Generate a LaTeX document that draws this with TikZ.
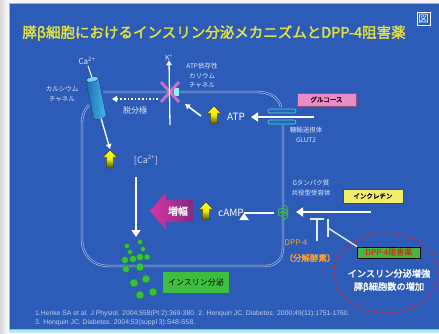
\documentclass[tikz,border=0pt]{standalone}
\usepackage{fontspec}
\setmainfont{Noto Sans CJK JP}[AutoFakeBold=2]
\newfontfamily\refsans{Liberation Sans}
\usetikzlibrary{arrows.meta,shapes.geometric,decorations.pathmorphing,calc}

\definecolor{slide}{HTML}{2C5BB8}
\definecolor{slideedge}{HTML}{62CFE0}
\definecolor{titleyellow}{HTML}{E6E23C}
\definecolor{labelwhite}{HTML}{E4EAF6}
\definecolor{membranegray}{HTML}{B8C4DC}
\definecolor{chanpink}{HTML}{D874C4}
\definecolor{glcpink}{HTML}{E88CC8}
\definecolor{incyellow}{HTML}{F2EE6A}
\definecolor{insgreen}{HTML}{3EBE3E}
\definecolor{granule}{HTML}{38C238}
\definecolor{granuleedge}{HTML}{1E8A2C}
\definecolor{dppgreen}{HTML}{46B446}
\definecolor{dpporange}{HTML}{F2A234}
\definecolor{ovalred}{HTML}{D42438}
\definecolor{ampmagenta}{HTML}{DA34A2}
\definecolor{amppurple}{HTML}{842A86}
\definecolor{chancyan}{HTML}{48B8EC}
\definecolor{chandark}{HTML}{1E6CB0}

\tikzset{
  lbl/.style={text=labelwhite, font=\fontsize{6.5}{9.5}\selectfont, align=center, inner sep=0pt},
  mol/.style={text=white, font=\fontsize{10}{12}\selectfont, inner sep=0pt},
  membrane/.style={draw=membranegray, line width=0.6pt, double=slide, double distance=1.1pt},
  bigarrow/.style={draw=white, line width=2.8pt, -{Triangle[length=7pt,width=9pt]}},
  thinarrow/.style={draw=white, line width=1.3pt, -{Triangle[length=5pt,width=5.5pt]}},
  inhibit/.style={draw=labelwhite, line width=1.4pt},
  yarrow/.pic={
    \draw[draw=black!75, line width=0.4pt, top color=yellow!90!white, bottom color=olive!60!black,
          middle color=yellow!85!olive]
      (0,-9) -- (7,-2) -- (3.6,-2) -- (3.6,9) -- (-3.6,9) -- (-3.6,-2) -- (-7,-2) -- cycle;
  },
}

\begin{document}
\begin{tikzpicture}[x=1pt,y=-1pt]
\useasboundingbox (0,0) rectangle (439,333);

% slide frame
\fill[white!94!gray] (0,0) rectangle (439,333);
\fill[left color=gray!30, right color=white] (0,0) rectangle (9,333);
\fill[slideedge!45!white] (9,329) rectangle (439,333);
\fill[slide] (9,4) rectangle (439,329);
\draw[slideedge, line width=1.2pt] (439,3.6) -- (9.6,3.6) -- (9.6,329.4) -- (439,329.4);

% title and figure mark
\node[text=titleyellow, font=\fontsize{14.5}{16}\selectfont\bfseries, inner sep=0pt] (title) at (214,33)
  {膵β細胞におけるインスリン分泌メカニズムとDPP-4阻害薬};
\node[draw=white, line width=0.8pt, text=white, font=\fontsize{10.5}{11}\selectfont, inner sep=0pt,
      minimum width=13pt, minimum height=13pt] (figmark) at (423.5,18.5) {図};

% cell membrane
\draw[membrane] (89,105) .. controls (84,110) and (82,116) .. (82,124) -- (82,240)
  .. controls (82,255) and (93,266) .. (108,266) -- (265,266)
  .. controls (276,266) and (283,259) .. (283,248) -- (283,125);
\draw[membrane] (103,92) -- (258,92) .. controls (270,92) and (279,98) .. (281,107);

% calcium channel
\begin{scope}[shift={(96,98)}, rotate=11.3]
  \draw[draw=chandark!70!black, line width=0.5pt, left color=chandark, right color=chancyan]
    (-6.5,-19) -- (-6.5,19) arc[start angle=180, end angle=360, x radius=6.5pt, y radius=2.5pt]
    -- (6.5,-19) -- cycle;
  \draw[draw=chandark!70!black, line width=0.5pt, fill=chancyan!70!white]
    (0,-19) ellipse[x radius=6.5pt, y radius=2.5pt];
  \coordinate (chtop) at (0,-21);
  \coordinate (chbot) at (1,21);
\end{scope}
\node[text=labelwhite, font=\fontsize{8}{9}\selectfont, inner sep=0pt] (ca) at (87,61) {Ca\textsuperscript{2+}};
\draw[white, line width=1pt] (ca.south) ++(1,1) -- (chtop);
\node[lbl] (calabel) at (62,94) {カルシウム\\チャネル};
\coordinate (caflow) at (110,149);
\draw[thinarrow] (chbot) -- (caflow);

% ATP-sensitive potassium channel
\fill[labelwhite!60!cyan] (174,88) rectangle (179,96);
\draw[chanpink, line width=3pt, opacity=0.9] (161,82) -- (179,102) (161,102) -- (179,82);
\coordinate (kin) at (170,125);
\node[text=labelwhite, font=\fontsize{7}{8}\selectfont, inner sep=0pt] (kion) at (169,57) {K\textsuperscript{+}};
\draw[thinarrow] (kin) -- (kion.south);
\node[lbl] (katp) at (202,76) {ATP依存性\\カリウム\\チャネル};

% depolarisation
\coordinate (depstart) at (158,99);
\coordinate (depend) at (112,99);
\draw[white, line width=1.6pt, dotted, -{Triangle[length=5pt,width=6pt]}] (depstart) -- (depend);
\node[text=labelwhite, font=\fontsize{8}{9}\selectfont, inner sep=0pt] (depol) at (135,110) {脱分極};

% ATP
\pic (atpup) at (214,115) {yarrow};
\node[mol] (atp) at (236,117) {ATP};
\coordinate (atpfrom) at (201,116);
\coordinate (atpto) at (185,104);
\draw[thinarrow, line width=1.6pt] (atpfrom) -- (atpto);

% glucose entry through GLUT2
\draw[draw=slideedge, line width=0.6pt, fill=chandark, rounded corners=2pt] (268,109) rectangle (296,113);
\draw[draw=slideedge, line width=0.6pt, fill=chandark, rounded corners=2pt] (268,120) rectangle (296,124);
\node[fill=glcpink, draw=glcpink!60!black, line width=0.5pt, text=black!85!red,
      font=\fontsize{6.5}{7}\selectfont\bfseries, minimum width=59pt, minimum height=13pt, inner sep=0pt]
  (glc) at (326.5,99.5) {グルコース};
\coordinate (glcin) at (314,117);
\coordinate (glcout) at (251,117);
\draw[bigarrow] (glcin) -- (glcout);
\node[lbl] (glut) at (306,135) {糖輸送担体\\GLUT2};

% calcium rise and exocytosis
\pic (caup) at (110,159) {yarrow};
\node[text=labelwhite!85!gray, font=\fontsize{9}{10}\selectfont, inner sep=0pt] (cai) at (146,160) {[Ca\textsuperscript{2+}]};
\coordinate (exotop) at (136,177);
\coordinate (exobot) at (136,237);
\draw[bigarrow, line width=2pt] (exotop) -- (exobot);

\foreach \gx/\gy/\gr in {127/246/2.5, 140/242/2.5, 143/249/2.5, 130/252/2.5, 125/260/3.5,
  133/259/3.5, 140/257/3.5, 147/257/3, 126/269/3.5, 140/267/4, 134/283/4, 146/279/4,
  140/295/4, 153/292/4}
  \fill[granule, draw=granuleedge, line width=0.4pt] (\gx,\gy) circle[radius=\gr pt];

\node[fill=insgreen, text=black, font=\fontsize{8}{9}\selectfont, minimum width=66pt,
      minimum height=21pt, inner sep=0pt] (ins) at (196,282.5) {インスリン分泌};

% amplification by cAMP
\path[left color=ampmagenta, right color=amppurple]
  (150,211) -- (166,192) -- (166,200) -- (193,200) -- (193,222) -- (166,222) -- (166,230) -- cycle;
\node[text=white, font=\fontsize{10}{11}\selectfont\bfseries, inner sep=0pt] (amp) at (178,211) {増幅};
\pic (campup) at (206,211) {yarrow};
\node[mol] (camp) at (231,213) {cAMP};

% incretin receptor
\draw[granule, line width=0.9pt, decorate,
      decoration={coil, aspect=0.6, segment length=3.5pt, amplitude=5pt}] (283,205) -- (283,222);
\coordinate (recout) at (274,213);
\draw[bigarrow, line width=2.4pt] (recout) -- (camp.east) ++(0,0);
\node[lbl] (gpcr) at (311,188) {Gタンパク質\\共役型受容体};
\node[fill=incyellow, draw=black!70, line width=0.5pt, text=black,
      font=\fontsize{6.5}{7}\selectfont\bfseries, minimum width=60pt, minimum height=14pt, inner sep=0pt]
  (inc) at (373,196) {インクレチン};
\coordinate (incfrom) at (371,212);
\coordinate (incto) at (296,212);
\draw[bigarrow] (incfrom) -- (incto);

% DPP-4 and its inhibitor
\node[text=dpporange, font=\fontsize{8}{10}\selectfont, inner sep=0pt] (dpp) at (296,243) {DPP-4};
\node[text=dpporange, font=\fontsize{8.5}{10}\selectfont\bfseries, inner sep=0pt] (dppname) at (310,258) {（分解酵素）};
\coordinate (dppstem) at (317,241);
\coordinate (dppbar) at (317,219);
\draw[inhibit] (dppstem) -- (dppbar);
\draw[inhibit] (310,219) -- (324,219);

\node[ellipse, draw=ovalred, line width=1pt, dash pattern=on 5pt off 3.5pt,
      minimum width=104pt, minimum height=80pt, inner sep=0pt] (effect) at (386,273) {};
\node[fill=dppgreen, draw=black, line width=0.8pt, text=red, font=\fontsize{8}{9}\selectfont,
      minimum width=63pt, minimum height=11pt, inner sep=0pt] (dppi) at (389,252.5) {DPP-4阻害薬};
\coordinate (blockpt) at (328,228);
\draw[inhibit] (dppi.north west) -- (blockpt);
\draw[inhibit] (328,219) -- (328,237);
\node[text=white, font=\fontsize{9.2}{13}\selectfont\bfseries, align=center, inner sep=0pt]
  (efftext) at (389,280.5) {インスリン分泌増強\\膵β細胞数の増加};

% references
\node[text=labelwhite!80!slide, font=\refsans\fontsize{6.8}{8}\selectfont, anchor=west, inner sep=0pt]
  (ref1) at (35,314) {1.Henke SA et al. J Physiol. 2004;558(Pt 2):369-380. 2. Henquin JC. Diabetes. 2000;49(11):1751-1760.};
\node[text=labelwhite!80!slide, font=\refsans\fontsize{6.8}{8}\selectfont, anchor=west, inner sep=0pt]
  (ref2) at (35,323) {3. Henquin JC. Diabetes. 2004;53(suppl 3):S48-S58.};
\end{tikzpicture}
\end{document}
